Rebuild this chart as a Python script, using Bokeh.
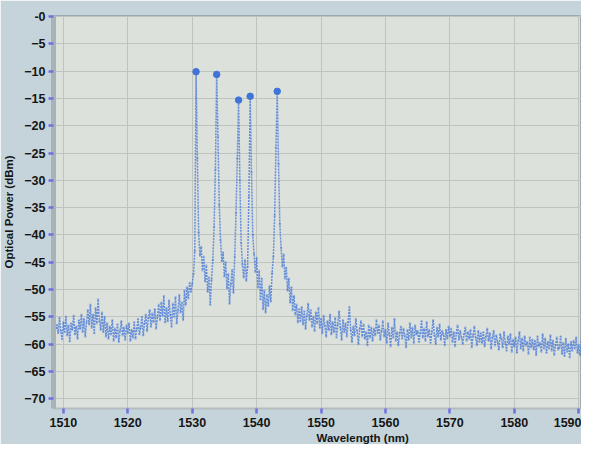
import numpy as np
from bokeh.plotting import figure
from bokeh.models import FixedTicker, Range1d, ColumnDataSource, Title
from bokeh.embed import file_html
from bokeh.resources import INLINE

left_start = 1508.8
noise_left = [
    -57.2,
    -56.5, -58.0, -55.2, -57.6, -59.1,
    -56.0, -57.8, -55.0, -58.4, -56.6,
    -59.5, -56.2, -57.4, -54.8, -58.2,
    -56.8, -59.0, -55.6, -57.2, -54.6,
    -57.8, -55.4, -58.6, -56.0, -53.8,
    -56.4, -52.8, -57.0, -54.6, -58.0,
    -53.4, -56.2, -51.8, -55.8, -57.4,
    -54.2, -57.8, -55.0, -58.6, -56.2,
    -59.0, -56.8, -58.2, -55.6, -59.4,
    -57.2, -58.8, -56.4, -59.6, -57.6,
    -55.8, -58.4, -57.0, -59.2, -56.6,
    -58.0, -56.2, -59.4, -57.4, -58.8,
    -56.0, -59.0, -57.2, -55.4, -58.2,
    -57.0, -55.0, -58.4, -56.2, -54.6,
    -57.6, -55.2, -53.8, -56.8, -54.4,
    -56.0, -53.6, -57.2, -55.0, -52.8,
    -55.6, -52.4, -54.8, -51.2, -56.0,
    -53.4, -55.8, -52.0, -54.6, -56.8,
    -52.6, -55.0, -51.4, -56.2, -53.8,
    -51.0, -54.2, -52.4, -55.6, -50.2,
    -52.8, -49.6, -51.6, -48.8, -50.4,
]

peak_start = 1530.0
peak_region = [
    -49.0, -47.2, -43.0, -10.1, -26.0,
    -39.5, -43.8, -42.2, -46.5, -44.0,
    -48.5, -45.6, -50.4, -47.8, -52.8,
    -48.2, -44.6, -38.5, -28.0, -10.6,
    -22.0, -34.5, -41.0, -44.8, -43.2,
    -47.6, -45.0, -49.8, -47.2, -52.6,
    -49.0, -46.4, -50.6, -44.0, -36.0,
    -26.0, -15.3, -30.0, -41.5, -45.4,
    -47.8, -44.6, -48.4, -45.8, -33.0,
    -14.6, -28.5, -40.0, -43.5, -46.8,
    -44.2, -49.6, -46.6, -51.8, -48.0,
    -53.6, -50.2, -54.2, -51.0, -53.0,
    -49.4, -52.2, -47.0, -44.0, -36.5,
    -24.0, -13.7, -27.0, -38.0, -42.4,
    -45.8, -43.6, -48.0, -46.0, -50.2,
    -48.0, -52.4, -49.6, -53.8, -51.2,
]

right_start = 1546.0
noise_right = [
    -54.6, -52.8, -56.0, -53.6, -55.8,
    -53.2, -56.4, -54.0, -57.2, -54.8,
    -52.6, -55.6, -53.8, -56.8, -55.0,
    -57.6, -54.2, -56.2, -53.4, -57.0,
    -55.4, -58.0, -54.8, -56.6, -58.6,
    -55.8, -57.4, -54.6, -58.2, -56.0,
    -57.8, -55.2, -58.8, -56.4, -54.0,
    -57.0, -59.2, -55.6, -57.8, -56.2,
    -58.6, -56.0, -53.2, -57.4, -59.6,
    -56.8, -58.4, -55.4, -57.6, -60.0,
    -57.2, -55.8, -58.6, -56.4, -59.0,
    -57.8, -60.2, -56.6, -58.8, -57.0,
    -59.4, -57.2, -58.4, -55.6, -58.0,
    -56.6, -59.2, -57.6, -55.8, -58.6,
    -57.4, -59.8, -56.2, -58.2, -60.4,
    -57.0, -58.8, -55.4, -59.4, -57.8,
    -60.2, -58.0, -56.8, -59.0, -57.2,
    -58.4, -60.6, -57.4, -59.2, -56.2,
    -58.8, -57.0, -59.8, -56.6, -58.2,
    -57.6, -59.6, -58.0, -55.8, -58.8,
    -57.2, -59.4, -56.0, -58.6, -57.4,
    -59.8, -57.8, -55.6, -58.4, -60.0,
    -57.0, -58.6, -56.4, -59.2, -57.6,
    -58.2, -60.2, -57.4, -59.0, -56.8,
    -58.6, -57.2, -59.6, -57.8, -60.4,
    -58.0, -56.6, -59.2, -57.6, -58.8,
    -60.0, -58.2, -57.0, -59.4, -57.8,
    -59.0, -57.4, -60.6, -58.4, -56.8,
    -58.8, -60.2, -57.6, -59.6, -58.0,
    -59.8, -57.8, -60.4, -58.6, -57.2,
    -59.4, -58.0, -60.8, -58.8, -57.6,
    -60.2, -58.4, -59.6, -61.0, -58.2,
    -59.0, -60.6, -57.8, -59.8, -61.2,
    -58.6, -60.0, -58.2, -61.4, -59.2,
    -60.4, -58.8, -61.6, -59.4, -57.8,
    -60.8, -59.0, -61.2, -58.6, -60.2,
    -59.6, -61.8, -58.8, -60.6, -59.2,
    -61.0, -59.4, -62.0, -58.6, -60.4,
    -59.8, -61.4, -58.2, -60.8, -59.0,
    -61.6, -59.6, -60.8, -58.4, -61.2,
    -59.4, -62.0, -60.2, -58.8, -61.0,
    -60.6, -58.6, -61.8, -59.8, -62.2,
    -59.0, -61.4, -60.0, -62.4, -59.6,
    -61.2, -59.4, -60.8, -58.8, -61.6,
    -60.2, -62.0, -59.6, -61.4, -60.4,
]
step_nm = 0.2

peak_wl = [1530.6, 1533.8, 1537.2, 1539.0, 1543.2]
peak_pw = [-10.1, -10.6, -15.3, -14.6, -13.7]

x_ticks = [1510, 1520, 1530, 1540, 1550, 1560, 1570, 1580, 1590]
y_ticks = [-70, -65, -60, -55, -50, -45, -40, -35, -30, -25, -20, -15, -10, -5, 0]

x_title = "Wavelength (nm)"
y_title = "Optical Power (dBm)"

def seg(start, vals):
    return [round(start + step_nm * i, 2) for i in range(len(vals))]

wl = seg(left_start, noise_left) + seg(peak_start, peak_region) + seg(right_start, noise_right)
pw = noise_left + peak_region + noise_right
src = ColumnDataSource(dict(wl=wl, pw=pw))

FONT = "Liberation Sans"
TRACE = "#3f73d8"

p = figure(width=581, height=444, output_backend="svg", toolbar_location=None,
           x_range=Range1d(1508.47, 1590.43), y_range=Range1d(-71.8, 0.2),
           min_border_left=45, min_border_right=0, min_border_top=15, min_border_bottom=0)

p.background_fill_color = "#dde1db"
p.border_fill_color = "#c5d4da"
p.outline_line_color = "#9ea8ae"
p.outline_line_width = 1

p.line("wl", "pw", source=src, line_color=TRACE, line_width=1.5, line_dash="2 1", line_alpha=0.75)
p.scatter("wl", "pw", source=src, size=2.4, color=TRACE, alpha=0.4, line_color=None)
p.scatter(peak_wl, peak_pw, size=6.5, color=TRACE, line_color=TRACE)

p.xaxis.ticker = FixedTicker(ticks=x_ticks)
p.yaxis.ticker = FixedTicker(ticks=y_ticks)
p.yaxis.major_label_overrides = {0: "-0"}
p.xaxis.minor_tick_line_color = None
p.yaxis.minor_tick_line_color = None

for ax in (p.xaxis, p.yaxis):
    ax.major_label_text_font = FONT
    ax.major_label_text_font_style = "bold"
    ax.major_label_text_font_size = "12.5px"
    ax.major_label_text_color = "#151515"
    ax.axis_label_text_font = FONT
    ax.axis_label_text_font_style = "bold"
    ax.axis_label_text_font_size = "11.5px"
    ax.axis_label_text_color = "#151515"
    ax.major_tick_line_color = "#6f70e0"
    ax.major_tick_line_width = 2.5
    ax.major_tick_in = 0
    ax.major_tick_out = 5

p.yaxis.axis_label = y_title
p.xaxis.major_label_standoff = 4
p.yaxis.major_label_standoff = 3
p.yaxis.axis_label_standoff = 6
p.yaxis.axis_line_color = "#a9b2b6"
p.yaxis.axis_line_width = 5
p.xaxis.axis_line_color = "#b3bbbf"
p.xaxis.axis_line_width = 2

# x-axis title sits right of centre in the original
p.add_layout(Title(text=x_title, align="left", offset=263, standoff=1,
                   text_font=FONT, text_font_style="bold", text_font_size="11.5px",
                   text_color="#151515"), "below")

p.grid.grid_line_color = "#bfc4bf"
p.grid.grid_line_width = 1

open("out.html", "w").write(file_html(p, INLINE))
